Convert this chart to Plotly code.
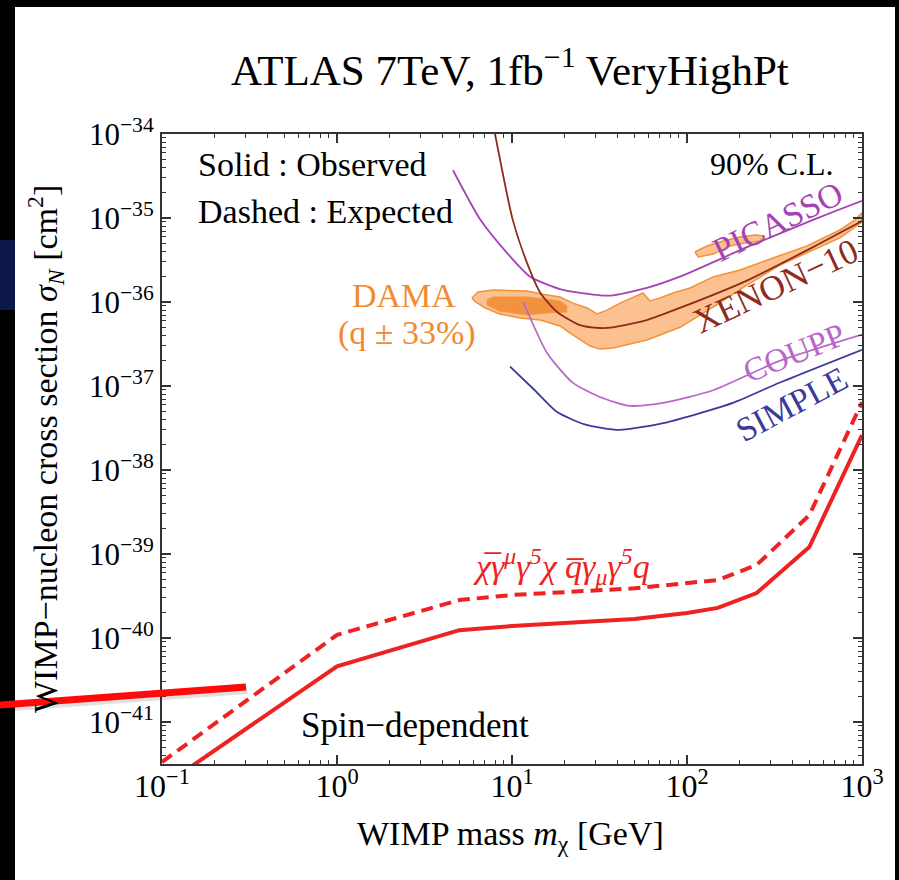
import plotly.graph_objects as go

# ---------------- data ----------------
mass_limit = [0.1, 1, 5, 10, 50, 100, 150, 250, 500, 1000]
sigma_observed = [1.7e-42, 4.6e-41, 1.24e-40, 1.39e-40, 1.68e-40, 1.99e-40, 2.28e-40, 3.43e-40, 1.21e-39, 2.6e-38]
sigma_expected = [3.34e-42, 1.09e-40, 2.83e-40, 3.25e-40, 3.9e-40, 4.5e-40, 4.9e-40, 7.4e-40, 2.9e-39, 6.4e-38]

picasso_mass = [4.6, 6.6, 9.4, 12.7, 19.6, 31.8, 37.8, 59, 91, 220, 525, 1000]
picasso_sigma = [3.7e-35, 9.5e-36, 3.8e-36, 2.0e-36, 1.39e-36, 1.2e-36, 1.2e-36, 1.47e-36, 2.0e-36, 4.5e-36, 9.5e-36, 1.6e-35]

xenon_mass = [8.0, 10.1, 12.2, 14.5, 18.1, 24.5, 31.8, 37.8, 59, 91, 220, 525, 1000]
xenon_sigma = [1.0e-34, 9.5e-36, 2.9e-36, 1.29e-36, 7.6e-37, 5.3e-37, 4.9e-37, 5.0e-37, 6.1e-37, 8.5e-37, 1.8e-36, 4.5e-36, 9.2e-36]

coupp_mass = [11.6, 15.9, 22.3, 31.8, 47, 73, 141, 340, 1000]
coupp_sigma = [1.0e-36, 2.45e-37, 1.09e-37, 7.4e-38, 5.8e-38, 6.3e-38, 8.9e-38, 2.0e-37, 4.1e-37]

simple_mass = [9.75, 13.5, 18.1, 26, 41, 77, 183, 340, 1000]
simple_sigma = [1.7e-37, 8.9e-38, 4.9e-38, 3.5e-38, 3.0e-38, 3.7e-38, 6.3e-38, 1.1e-37, 2.7e-37]

# DAMA allowed region (outer contour, closed)
dama_mass = [5.9, 6.4, 7.8, 12.2, 15.0, 18.8, 22.3, 26.9, 30.6, 34.9, 41.4, 49.1, 56.1, 61.5, 70.2,
             83.2, 104, 141, 201, 310, 485, 748, 912, 1000,
             1000, 748, 525, 340, 220, 141, 91.2, 59, 37.8, 31.8, 27.9, 24.5, 21.4, 18.8, 14.5,
             11.1, 8.5, 7.0, 6.2, 5.9]
dama_sigma = [1.117e-36, 1.315e-36, 1.39e-36, 1.35e-36, 1.24e-36, 1.15e-36, 9.7e-37, 8.5e-37, 7.2e-37,
              8.0e-37, 9.7e-37, 1.12e-36, 1.28e-36, 1.03e-36, 1.12e-36,
              1.28e-36, 1.47e-36, 1.99e-36, 2.40e-36, 3.34e-36, 4.65e-36, 7.2e-36, 9.5e-36, 1.15e-35,
              8.95e-36, 5.8e-36, 4.16e-36, 2.75e-36, 1.59e-36, 8.7e-37, 5.0e-37, 3.53e-37, 2.83e-37,
              2.75e-37, 2.99e-37, 3.53e-37, 4.28e-37, 5.18e-37, 6.1e-37,
              6.46e-37, 7.2e-37, 8.5e-37, 1.0e-36, 1.117e-36]
# DAMA inner (darker) region
dama_in_mass = [7.2, 7.8, 12.2, 18.8, 20.6, 20.6, 15.8, 12.2, 8.5, 7.2, 7.2]
dama_in_sigma = [1.06e-36, 1.15e-36, 1.15e-36, 1.03e-36, 8.95e-37, 7.6e-37, 7.4e-37, 7.0e-37, 7.8e-37, 9.2e-37, 1.06e-36]
# DAMA second island
dama2_mass = [111, 130, 161, 201, 245, 279, 261, 214, 176, 141, 116, 111]
dama2_sigma = [3.94e-36, 4.65e-36, 5.32e-36, 5.94e-36, 6.28e-36, 6.1e-36, 5.32e-36, 5.04e-36, 4.65e-36, 3.72e-36, 3.44e-36, 3.94e-36]

x_tick_vals = [0.1, 1, 10, 100, 1000]
x_tick_text = ["10<sup>−1</sup>", "10<sup>0</sup>", "10<sup>1</sup>", "10<sup>2</sup>", "10<sup>3</sup>"]
y_tick_vals = [1e-41, 1e-40, 1e-39, 1e-38, 1e-37, 1e-36, 1e-35, 1e-34]
y_tick_text = ["10<sup>−41</sup>", "10<sup>−40</sup>", "10<sup>−39</sup>", "10<sup>−38</sup>",
               "10<sup>−37</sup>", "10<sup>−36</sup>", "10<sup>−35</sup>", "10<sup>−34</sup>"]

# ---------------- styling ----------------
FONT = "Liberation Serif"
RED = "#EE2222"
ORANGE_TXT = "#F28A30"
PIC_COL = "#A444B4"
XEN_COL = "#8E2A1E"
COU_COL = "#B868C8"
SIM_COL = "#3A3A9C"
AX = "#333333"

W, H = 899, 880
L, R, T, B = 162, 37, 134, 116
PW, PH = W - L - R, H - T - B


def P(px, py):
    return (px - L) / PW, (H - B - py) / PH


fig = go.Figure()

fig.add_trace(go.Scatter(x=dama_mass, y=dama_sigma, mode="lines", fill="toself",
                         fillcolor="#FBC190", line=dict(color="#F39236", width=1.5),
                         hoverinfo="skip", showlegend=False))
fig.add_trace(go.Scatter(x=dama_in_mass, y=dama_in_sigma, mode="lines", fill="toself",
                         fillcolor="#F2923F", line=dict(color="#F39A4A", width=1),
                         hoverinfo="skip", showlegend=False))
fig.add_trace(go.Scatter(x=dama2_mass, y=dama2_sigma, mode="lines", fill="toself",
                         fillcolor="#FBC190", line=dict(color="#F39236", width=1.5),
                         hoverinfo="skip", showlegend=False))

for xs, ys, col in [(picasso_mass, picasso_sigma, PIC_COL),
                    (xenon_mass, xenon_sigma, XEN_COL),
                    (coupp_mass, coupp_sigma, COU_COL),
                    (simple_mass, simple_sigma, SIM_COL)]:
    fig.add_trace(go.Scatter(x=xs, y=ys, mode="lines", line=dict(color=col, width=1.8, shape="spline", smoothing=0.6),
                             hoverinfo="skip", showlegend=False))

fig.add_trace(go.Scatter(x=mass_limit, y=sigma_expected, mode="lines",
                         line=dict(color=RED, width=4, dash="12px,7px"), showlegend=False))
fig.add_trace(go.Scatter(x=mass_limit, y=sigma_observed, mode="lines",
                         line=dict(color=RED, width=4), showlegend=False))
# invisible trace anchoring the mirrored (top/right) tick axes
fig.add_trace(go.Scatter(x=[1], y=[1e-38], xaxis="x2", yaxis="y2", mode="markers",
                         marker=dict(opacity=0), hoverinfo="skip", showlegend=False))

tick_common = dict(
    type="log", showgrid=False, zeroline=False,
    ticks="inside", ticklen=9, tickwidth=1.5, tickcolor=AX,
    minor=dict(ticks="inside", ticklen=4, tickwidth=1, tickcolor=AX, dtick="D1", showgrid=False),
)

fig.update_layout(
    xaxis=dict(range=[-1, 3], tickvals=x_tick_vals, ticktext=x_tick_text,
               showline=True, linecolor=AX, linewidth=2, mirror=True,
               tickfont=dict(family=FONT, size=32, color="black"), ticklabelstandoff=-7,
               **tick_common),
    yaxis=dict(range=[-41.5, -34], tickvals=y_tick_vals, ticktext=y_tick_text,
               showline=True, linecolor=AX, linewidth=2, mirror=True,
               tickfont=dict(family=FONT, size=31, color="black"),
               **tick_common),
    xaxis2=dict(range=[-1, 3], tickvals=x_tick_vals, overlaying="x", side="top",
                showticklabels=False, showline=False, anchor="y2", **tick_common),
    yaxis2=dict(range=[-41.5, -34], tickvals=y_tick_vals, overlaying="y", side="right",
                showticklabels=False, showline=False, anchor="x2", **tick_common),
)

shapes = []
x0, y0 = P(15, 7)
x1, y1 = P(895, 880)
shapes.append(dict(type="rect", xref="paper", yref="paper", x0=x0, y0=y1, x1=x1, y1=y0,
                   fillcolor="white", line=dict(width=0), layer="below"))
bx0, by0 = P(0, 240)
bx1, by1 = P(15, 310)
shapes.append(dict(type="rect", xref="paper", yref="paper", x0=bx0, y0=by1, x1=bx1, y1=by0,
                   fillcolor="#0B1848", line=dict(width=0), layer="below"))
# pointer line drawn on slide (with soft shadow)
sx0, sy0 = P(0, 708)
sx1, sy1 = P(247, 690)
shapes.append(dict(type="line", xref="paper", yref="paper", x0=sx0, y0=sy0, x1=sx1, y1=sy1,
                   line=dict(color="rgba(0,0,0,0.12)", width=8), layer="above"))
lx0, ly0 = P(0, 705)
lx1, ly1 = P(246, 687)
shapes.append(dict(type="line", xref="paper", yref="paper", x0=lx0, y0=ly0, x1=lx1, y1=ly1,
                   line=dict(color="#FF0A0A", width=7), layer="above"))

annotations = []


def ann(text, px, py, size, color="black", xanchor="center", angle=0, yanchor="middle"):
    x, y = P(px, py)
    annotations.append(dict(text=text, x=x, y=y, xref="paper", yref="paper", showarrow=False,
                            xanchor=xanchor, yanchor=yanchor, textangle=angle,
                            font=dict(family=FONT, size=size, color=color)))


ann("ATLAS 7TeV, 1fb<sup>−1</sup> VeryHighPt", 510, 67, 43)
ann("Solid : Observed", 196, 164, 34, xanchor="left")
ann("Dashed : Expected", 196, 211, 34, xanchor="left")
ann("90% C.L.", 836, 164, 32, xanchor="right")
ann("DAMA", 404, 295, 34, color=ORANGE_TXT)
ann("(q ± 33%)", 407, 333, 34, color=ORANGE_TXT)
ann("PICASSO", 778, 222, 34, color=PIC_COL, angle=-26)
ann("XENON−10", 775, 286, 35, color=XEN_COL, angle=-25)
ann("COUPP", 794, 353, 33, color=COU_COL, angle=-22)
ann("SIMPLE", 791, 404, 34, color=SIM_COL, angle=-28)
ann("<i>χ̅γ<sup>μ</sup>γ<sup>5</sup>χ q̅γ<sub>μ</sub>γ<sup>5</sup>q</i>", 561, 566, 34, color=RED)
ann("Spin−dependent", 415, 725, 35)
ann("WIMP−nucleon cross section <i>σ</i><sub><i>N</i></sub> [cm<sup>2</sup>]", 45, 449, 34, angle=-90)
ann("WIMP mass <i>m</i><sub>χ</sub> [GeV]", 510, 836, 34)

fig.update_layout(
    width=W, height=H,
    margin=dict(l=L, r=R, t=T, b=B, pad=0),
    paper_bgcolor="black", plot_bgcolor="white",
    shapes=shapes, annotations=annotations, showlegend=False,
    font=dict(family=FONT),
)

fig.write_html("out.html")
